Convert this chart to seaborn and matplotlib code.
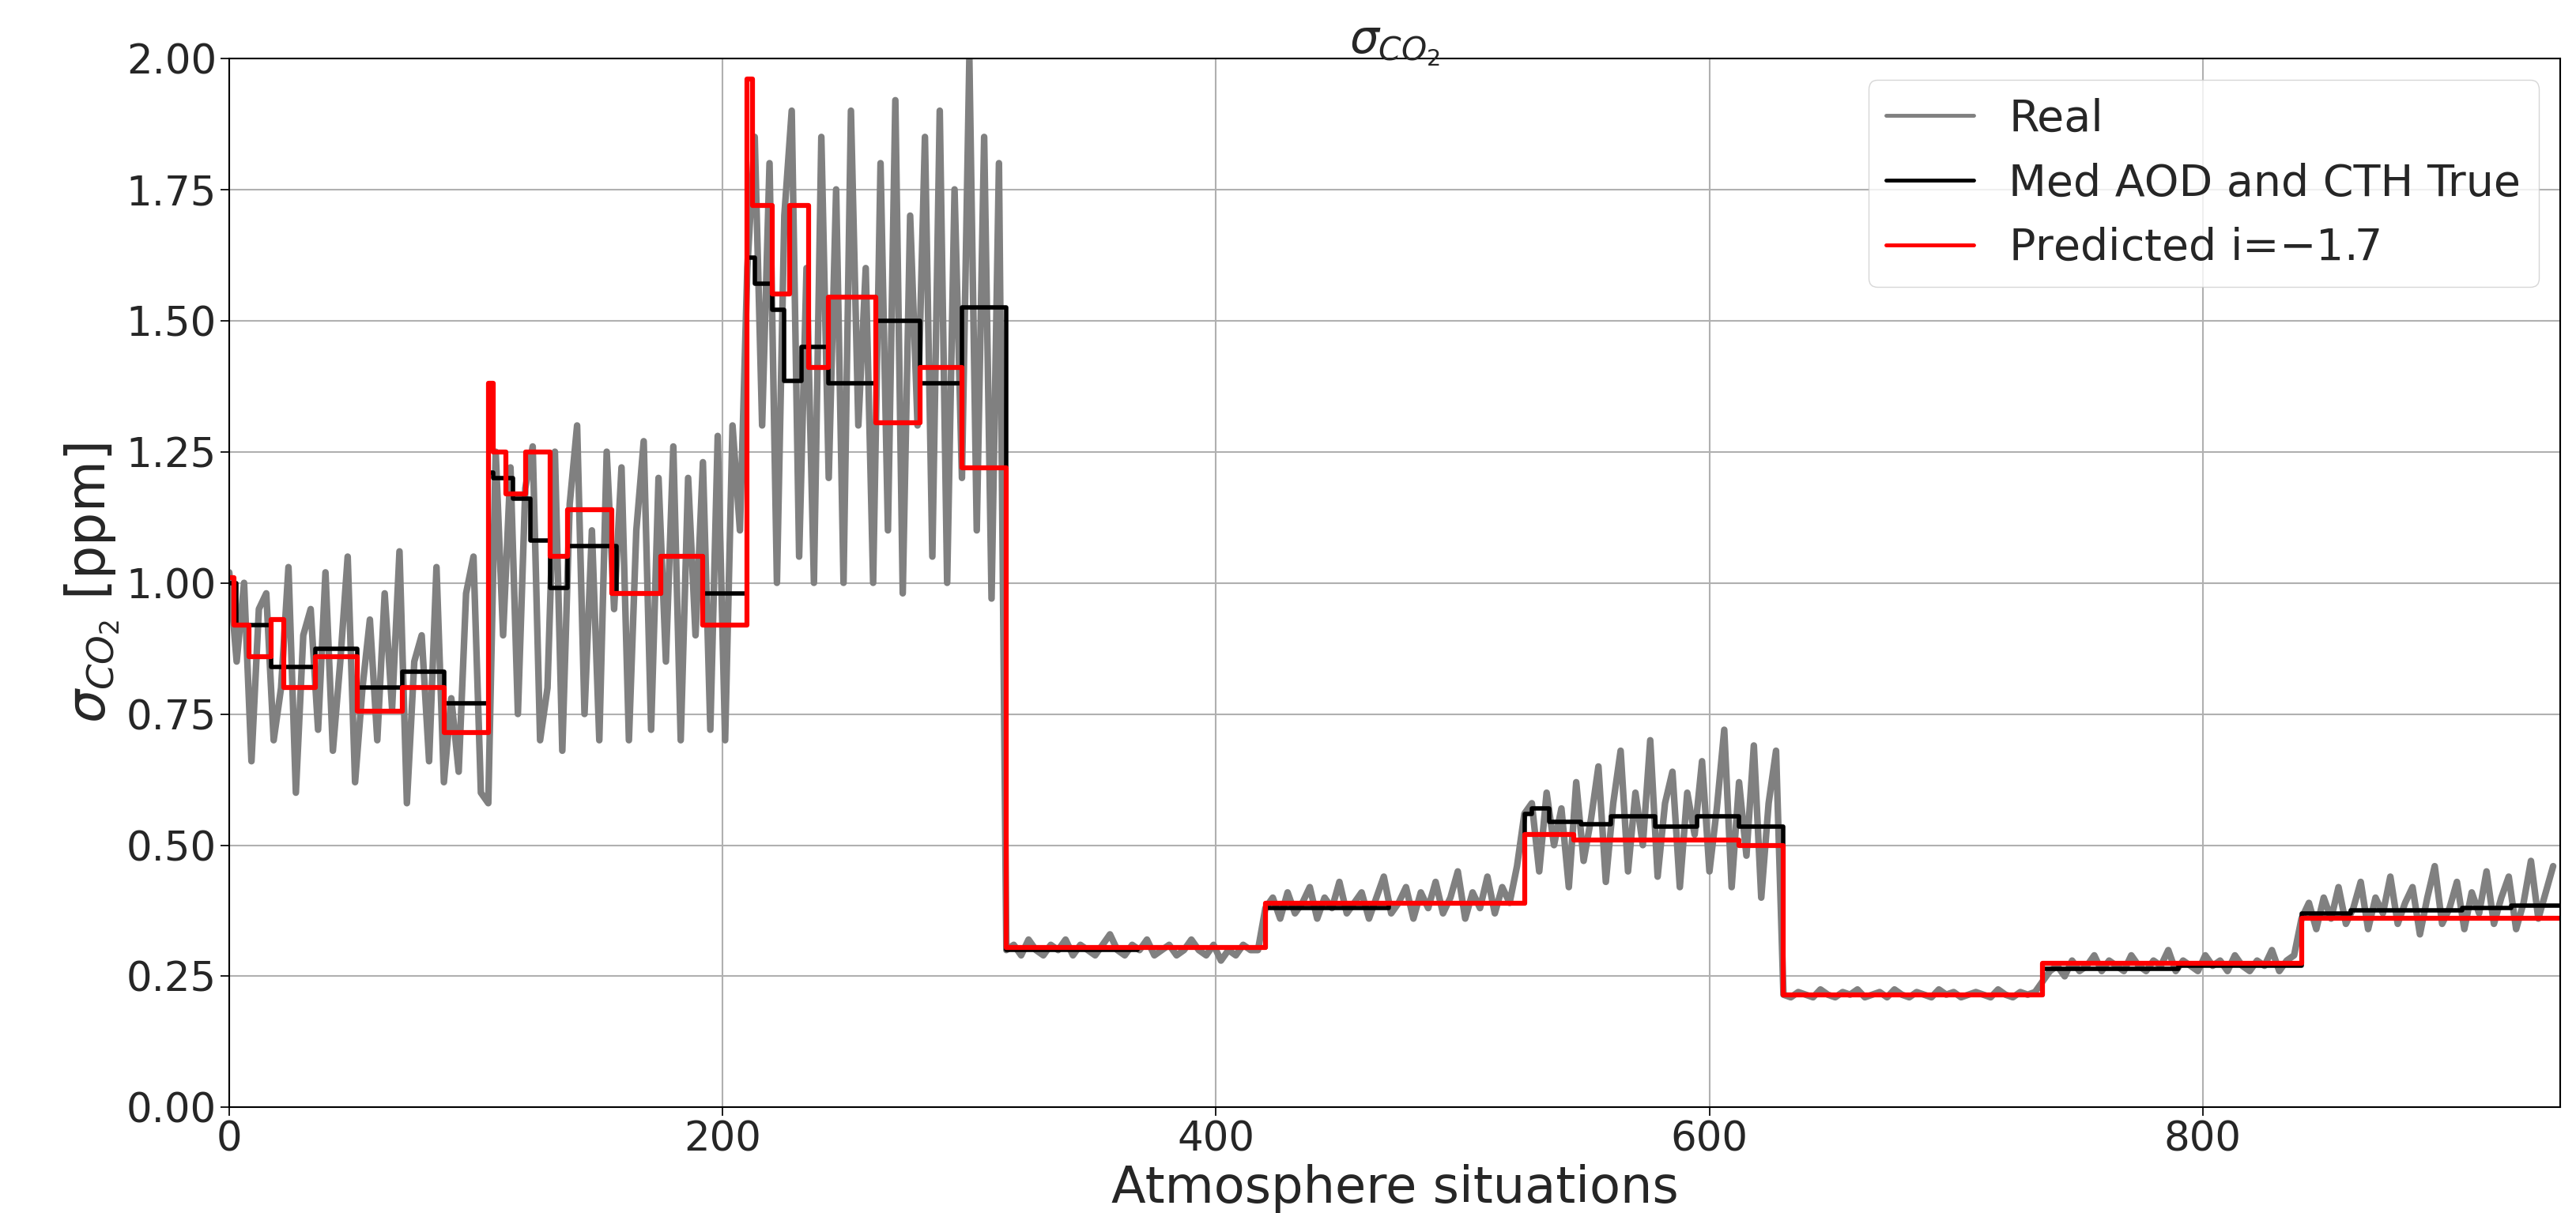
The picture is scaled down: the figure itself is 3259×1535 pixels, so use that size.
import numpy as np
import pandas as pd
import matplotlib
matplotlib.use("Agg")
import matplotlib.pyplot as plt
import seaborn as sns

real_b1 = [1.02,0.85,1.0,0.66,0.95,0.98,0.7,0.8,1.03,0.6,0.9,0.95,0.72,1.02,0.68,0.85,1.05,0.62,0.8,0.93,0.7,0.98,0.76,1.06,0.58,0.85,0.9,0.66,1.03,0.62,0.78,0.64,0.98,1.05,0.6]
real_b2 = [0.58,1.25,0.9,1.22,0.75,1.18,1.26,0.7,0.8,1.25,0.68,1.15,1.3,0.75,1.1,0.7,1.25,0.95,1.22,0.7,1.1,1.27,0.72,1.2,0.85,1.26,0.7,1.2,0.9,1.23,0.72,1.28,0.7,1.3,1.1]
real_b3 = [1.6,1.85,1.3,1.8,1.0,1.7,1.9,1.05,1.6,1.0,1.85,1.2,1.75,1.0,1.9,1.3,1.6,1.0,1.8,1.1,1.92,0.98,1.7,1.3,1.85,1.05,1.9,1.0,1.75,1.2,2.0,1.1,1.85,0.97,1.8]
real_b4 = [0.30,0.31,0.29,0.32,0.30,0.29,0.31,0.30,0.32,0.29,0.31,0.30,0.29,0.31,0.33,0.30,0.29,0.31,0.30,0.32,0.29,0.30,0.31,0.29,0.30,0.32,0.30,0.29,0.31,0.28,0.30,0.29,0.31,0.30,0.30]
real_b5 = [0.38,0.40,0.36,0.41,0.37,0.39,0.42,0.36,0.40,0.38,0.43,0.37,0.39,0.41,0.36,0.40,0.44,0.37,0.39,0.42,0.36,0.41,0.38,0.43,0.37,0.40,0.45,0.36,0.41,0.38,0.44,0.37,0.42,0.39,0.46]
real_b6 = [0.56,0.58,0.45,0.60,0.50,0.57,0.42,0.62,0.47,0.55,0.65,0.43,0.58,0.68,0.45,0.60,0.50,0.70,0.44,0.58,0.64,0.42,0.60,0.52,0.66,0.45,0.57,0.72,0.42,0.62,0.48,0.69,0.40,0.58,0.68]
real_b7 = [0.215,0.21,0.22,0.215,0.21,0.225,0.215,0.21,0.22,0.215,0.225,0.21,0.215,0.22,0.21,0.225,0.215,0.21,0.22,0.215,0.21,0.225,0.215,0.22,0.21,0.215,0.22,0.215,0.21,0.225,0.215,0.21,0.22,0.215,0.22]
real_b8 = [0.24,0.26,0.27,0.25,0.28,0.26,0.27,0.29,0.26,0.28,0.27,0.26,0.29,0.27,0.26,0.28,0.27,0.30,0.26,0.28,0.27,0.26,0.29,0.27,0.28,0.26,0.29,0.27,0.26,0.28,0.27,0.30,0.26,0.28,0.29]
real_b9 = [0.36,0.39,0.34,0.40,0.36,0.42,0.35,0.38,0.43,0.34,0.40,0.37,0.44,0.35,0.39,0.42,0.33,0.40,0.46,0.35,0.38,0.43,0.34,0.41,0.37,0.45,0.35,0.40,0.44,0.34,0.39,0.47,0.36,0.41,0.46]

block_starts = [0, 105, 210, 315, 420, 525, 630, 735, 840]

# Med AOD and CTH True (step values starting at given x)
black_x = [0, 3, 17, 35, 52, 70, 87,
           105, 107, 115, 122, 130, 137, 157, 175, 192,
           210, 213, 220, 225, 232, 243, 262, 280, 297,
           315, 368, 420, 470, 525, 528, 535, 548, 560, 578, 595, 612,
           630, 735, 790, 840, 860, 880, 905, 925, 945]
black_y = [1.00, 0.92, 0.84, 0.875, 0.80, 0.83, 0.77,
           1.21, 1.20, 1.16, 1.08, 0.99, 1.07, 0.98, 1.05, 0.98,
           1.62, 1.57, 1.52, 1.385, 1.45, 1.38, 1.50, 1.38, 1.525,
           0.30, 0.305, 0.38, 0.39, 0.56, 0.57, 0.545, 0.54, 0.555, 0.535, 0.555, 0.535,
           0.215, 0.265, 0.27, 0.37, 0.375, 0.375, 0.38, 0.385, 0.385]

# Predicted i=-1.7
red_x = [0, 2, 8, 17, 22, 35, 52, 70, 87,
         105, 107, 112, 120, 130, 137, 155, 175, 192,
         210, 212, 220, 227, 235, 243, 262, 280, 297,
         315, 420, 525, 545, 580, 612,
         630, 735, 840, 945]
red_y = [1.01, 0.92, 0.86, 0.93, 0.80, 0.86, 0.755, 0.80, 0.715,
         1.38, 1.25, 1.17, 1.25, 1.05, 1.14, 0.98, 1.05, 0.92,
         1.96, 1.72, 1.55, 1.72, 1.41, 1.545, 1.305, 1.41, 1.22,
         0.305, 0.39, 0.52, 0.51, 0.51, 0.50,
         0.215, 0.275, 0.36, 0.36]

blocks = [real_b1, real_b2, real_b3, real_b4, real_b5, real_b6, real_b7, real_b8, real_b9]
rx, ry = [], []
for s, b in zip(block_starts, blocks):
    rx += [s + 3 * k for k in range(len(b))]
    ry += b
real_df = pd.DataFrame({"x": rx, "y": ry})
black_df = pd.DataFrame({"x": black_x, "y": black_y})
red_df = pd.DataFrame({"x": red_x, "y": red_y})

sns.set_theme(style="whitegrid")
plt.rcParams['font.family'] = ['DejaVu Sans']
fig = plt.figure(figsize=(32.59, 15.35), dpi=100)
ax = fig.add_axes([0.089, 0.087, 0.905, 0.865])

sns.lineplot(data=real_df, x="x", y="y", ax=ax, color="grey", lw=6, label="Real")
sns.lineplot(data=black_df, x="x", y="y", ax=ax, color="black", lw=4,
             drawstyle="steps-post", label="Med AOD and CTH True")
sns.lineplot(data=red_df, x="x", y="y", ax=ax, color="red", lw=4.5,
             drawstyle="steps-post", label="Predicted i=$-$1.7")

ax.set_xlim(0, 945)
ax.set_ylim(0, 2.0)
ax.set_yticks(np.arange(0, 2.01, 0.25))
ax.set_xticks([0, 200, 400, 600, 800])
ax.tick_params(labelsize=37, length=8, color="black", left=True, bottom=True)
ax.grid(True, color="#b0b0b0", lw=1.5)
for sp in ax.spines.values():
    sp.set_color("black"); sp.set_linewidth(1.5)
ax.set_facecolor("white")
ax.set_xlabel("Atmosphere situations", fontsize=46, labelpad=4)
ax.set_ylabel(r"$\sigma_{CO_2}$ [ppm]", fontsize=48)
ax.set_title(r"$\sigma_{CO_2}$", fontsize=42, pad=4)
leg = ax.legend(fontsize=40, loc="upper right", framealpha=0.8)
for l in leg.get_lines():
    l.set_linewidth(3.5)
fig.savefig("out.png", dpi=100)
